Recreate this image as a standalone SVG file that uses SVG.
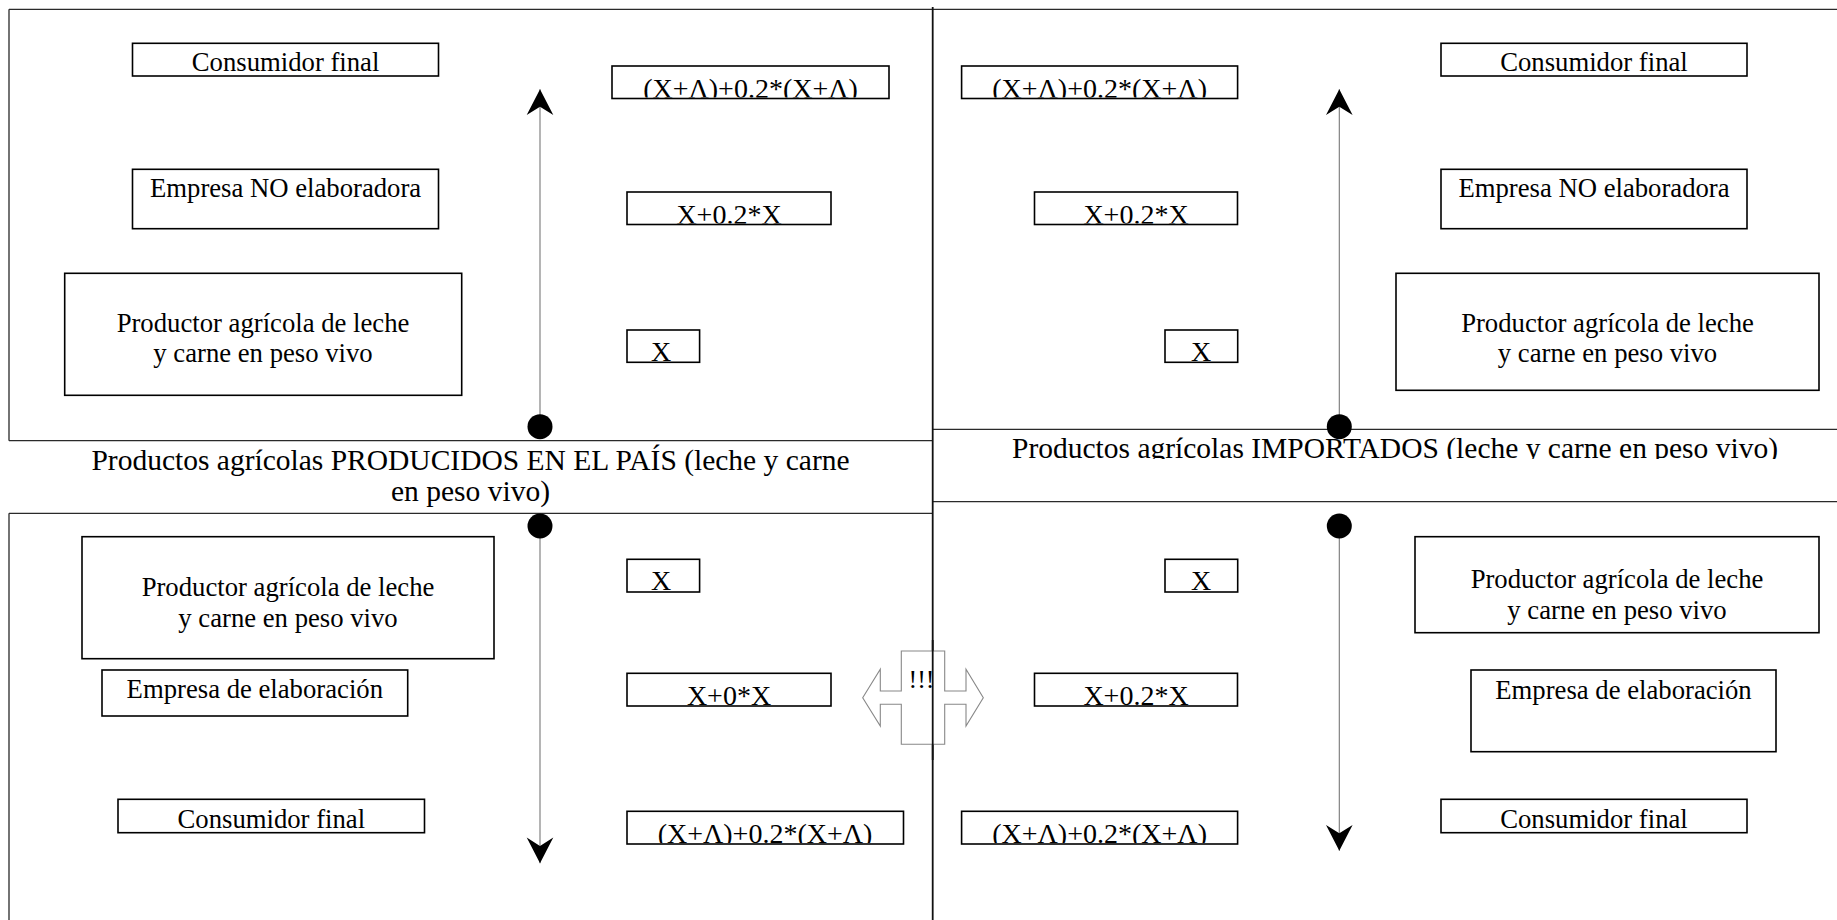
<svg xmlns="http://www.w3.org/2000/svg" width="1837" height="920" viewBox="0 0 1837 920">
<style>
.frame{fill:none;stroke:#2a2a2a;stroke-width:1.3}
.divider{fill:none;stroke:#111;stroke-width:1.8}
.box{fill:#fff;stroke:#000;stroke-width:1.6}
.lbl{font-family:"Liberation Serif","Times New Roman",serif;font-size:26.7px;fill:#000;text-anchor:middle}
.val{font-family:"Liberation Serif","Times New Roman",serif;font-size:28px;fill:#000;text-anchor:middle}
.ttl{font-family:"Liberation Serif","Times New Roman",serif;font-size:29.5px;fill:#000;text-anchor:middle}
.flow{fill:none;stroke:#777;stroke-width:1.1}
.dbl{fill:#fff;stroke:#888;stroke-width:1.1}
</style>
<defs>
<marker id="ah" markerUnits="userSpaceOnUse" markerWidth="32" markerHeight="32" viewBox="-28 -16 32 32" refX="0" refY="0" orient="auto">
<path d="M0,0 L-25.7,-13.3 L-17.4,0 L-25.7,13.3 Z" fill="#000"/>
</marker>
<marker id="dot" markerUnits="userSpaceOnUse" markerWidth="28" markerHeight="28" viewBox="-14 -14 28 28" refX="0" refY="0" orient="auto">
<circle cx="0" cy="0" r="12.5" fill="#000"/>
</marker>
<clipPath id="c1"><rect x="612" y="66" width="277" height="31.6"/></clipPath>
<clipPath id="c2"><rect x="627" y="192" width="204" height="31.6"/></clipPath>
<clipPath id="c3"><rect x="627" y="330" width="72.6" height="31.6"/></clipPath>
<clipPath id="c4"><rect x="961.6" y="66" width="276" height="31.6"/></clipPath>
<clipPath id="c5"><rect x="1034.5" y="192" width="203" height="31.6"/></clipPath>
<clipPath id="c6"><rect x="1165" y="330" width="72.7" height="31.6"/></clipPath>
<clipPath id="c7"><rect x="627" y="559.3" width="72.6" height="31.8"/></clipPath>
<clipPath id="c8"><rect x="627" y="673.3" width="204" height="31.8"/></clipPath>
<clipPath id="c9"><rect x="627" y="811.3" width="276.5" height="31.8"/></clipPath>
<clipPath id="c10"><rect x="1165" y="559.3" width="72.7" height="31.8"/></clipPath>
<clipPath id="c11"><rect x="1034.5" y="673.3" width="203" height="31.8"/></clipPath>
<clipPath id="c12"><rect x="961.6" y="811.3" width="276" height="31.8"/></clipPath>
<clipPath id="ct"><rect x="933" y="430" width="904" height="29"/></clipPath>
</defs>

<g id="frame">
<path class="frame" d="M9,9.3 H1837 M9,9.3 V440.7 M9,513.3 V920 M9,440.7 H932.7 M9,513.3 H932.7 M932.7,429.3 H1837 M932.7,501.7 H1837"/>
<path class="divider" d="M932.7,7 V920"/>
</g>

<g id="title-domestic">
<text class="ttl" x="470.5" y="470">Productos agrícolas PRODUCIDOS EN EL PAÍS (leche y carne</text>
<text class="ttl" x="470.5" y="501">en peso vivo)</text>
</g>
<g id="title-imported">
<text class="ttl" x="1395" y="457.5" clip-path="url(#ct)">Productos agrícolas IMPORTADOS (leche y carne en peso vivo)</text>
</g>

<!-- top-left panel -->
<g id="tl-consumidor"><rect class="box" x="132.5" y="43.3" width="306" height="32.7"/><text class="lbl" x="285.6" y="70.5">Consumidor final</text></g>
<g id="tl-empresa"><rect class="box" x="132.5" y="169.3" width="306" height="59.4"/><text class="lbl" x="285.6" y="197">Empresa NO elaboradora</text></g>
<g id="tl-productor"><rect class="box" x="64.7" y="273.3" width="397" height="122"/><text class="lbl" x="263" y="331.5">Productor agrícola de leche</text><text class="lbl" x="263" y="362">y carne en peso vivo</text></g>
<g id="tl-v3"><rect class="box" x="612" y="66" width="277" height="32.5"/><text class="val" x="750.5" y="98" clip-path="url(#c1)">(X+Λ)+0.2*(X+Λ)</text></g>
<g id="tl-v2"><rect class="box" x="627" y="192" width="204" height="32.5"/><text class="val" x="729" y="223.5" clip-path="url(#c2)">X+0.2*X</text></g>
<g id="tl-v1"><rect class="box" x="627" y="330" width="72.6" height="32.3"/><text class="val" x="661" y="361" clip-path="url(#c3)">X</text></g>

<!-- top-right panel -->
<g id="tr-consumidor"><rect class="box" x="1441" y="43.3" width="306" height="32.7"/><text class="lbl" x="1594" y="70.5">Consumidor final</text></g>
<g id="tr-empresa"><rect class="box" x="1441" y="169.3" width="306" height="59.4"/><text class="lbl" x="1594" y="197">Empresa NO elaboradora</text></g>
<g id="tr-productor"><rect class="box" x="1396" y="273.3" width="423" height="117"/><text class="lbl" x="1607.5" y="331.5">Productor agrícola de leche</text><text class="lbl" x="1607.5" y="362">y carne en peso vivo</text></g>
<g id="tr-v3"><rect class="box" x="961.6" y="66" width="276" height="32.5"/><text class="val" x="1099.6" y="98" clip-path="url(#c4)">(X+Λ)+0.2*(X+Λ)</text></g>
<g id="tr-v2"><rect class="box" x="1034.5" y="192" width="203" height="32.5"/><text class="val" x="1136" y="223.5" clip-path="url(#c5)">X+0.2*X</text></g>
<g id="tr-v1"><rect class="box" x="1165" y="330" width="72.7" height="32.3"/><text class="val" x="1201" y="361" clip-path="url(#c6)">X</text></g>

<!-- bottom-left panel -->
<g id="bl-productor"><rect class="box" x="82" y="536.7" width="412" height="122"/><text class="lbl" x="288" y="595.5">Productor agrícola de leche</text><text class="lbl" x="288" y="626.5">y carne en peso vivo</text></g>
<g id="bl-empresa"><rect class="box" x="102" y="670" width="305.7" height="46"/><text class="lbl" x="254.8" y="698">Empresa de elaboración</text></g>
<g id="bl-consumidor"><rect class="box" x="118" y="799.3" width="306.5" height="33.4"/><text class="lbl" x="271.3" y="828">Consumidor final</text></g>
<g id="bl-v1"><rect class="box" x="627" y="559.3" width="72.6" height="32.7"/><text class="val" x="661" y="590" clip-path="url(#c7)">X</text></g>
<g id="bl-v2"><rect class="box" x="627" y="673.3" width="204" height="32.7"/><text class="val" x="729" y="704.5" clip-path="url(#c8)">X+0*X</text></g>
<g id="bl-v3"><rect class="box" x="627" y="811.3" width="276.5" height="32.7"/><text class="val" x="765" y="843" clip-path="url(#c9)">(X+Λ)+0.2*(X+Λ)</text></g>

<!-- bottom-right panel -->
<g id="br-productor"><rect class="box" x="1415" y="536.7" width="404" height="96"/><text class="lbl" x="1617" y="588.3">Productor agrícola de leche</text><text class="lbl" x="1617" y="619">y carne en peso vivo</text></g>
<g id="br-empresa"><rect class="box" x="1471" y="670" width="305" height="81.7"/><text class="lbl" x="1623.5" y="699">Empresa de elaboración</text></g>
<g id="br-consumidor"><rect class="box" x="1441" y="799.3" width="306" height="33.4"/><text class="lbl" x="1594" y="828">Consumidor final</text></g>
<g id="br-v1"><rect class="box" x="1165" y="559.3" width="72.7" height="32.7"/><text class="val" x="1201" y="590" clip-path="url(#c10)">X</text></g>
<g id="br-v2"><rect class="box" x="1034.5" y="673.3" width="203" height="32.7"/><text class="val" x="1136" y="704.5" clip-path="url(#c11)">X+0.2*X</text></g>
<g id="br-v3"><rect class="box" x="961.6" y="811.3" width="276" height="32.7"/><text class="val" x="1099.6" y="843" clip-path="url(#c12)">(X+Λ)+0.2*(X+Λ)</text></g>

<!-- comparison double arrow -->
<g id="compare">
<path class="dbl" d="M862.7,697.7 L880.3,669.3 L880.3,691 L901.3,691 L901.3,651 L944.7,651 L944.7,691 L966,691 L966,669.3 L983.3,697.7 L966,726 L966,704.3 L944.7,704.3 L944.7,744.3 L901.3,744.3 L901.3,704.3 L880.3,704.3 L880.3,726 Z"/>
<path class="divider" d="M932.7,640 V760"/>
<text x="908.5" y="688" style="font-family:'Liberation Serif','Times New Roman',serif;font-size:26px;fill:#000">!!!</text>
</g>

<g id="connectors">
<line class="flow" x1="540" y1="426.7" x2="540" y2="89.3" marker-start="url(#dot)" marker-end="url(#ah)"/>
<line class="flow" x1="1339.3" y1="426.7" x2="1339.3" y2="89.3" marker-start="url(#dot)" marker-end="url(#ah)"/>
<line class="flow" x1="540" y1="526" x2="540" y2="863.3" marker-start="url(#dot)" marker-end="url(#ah)"/>
<line class="flow" x1="1339.3" y1="526" x2="1339.3" y2="850.7" marker-start="url(#dot)" marker-end="url(#ah)"/>
</g>
</svg>
